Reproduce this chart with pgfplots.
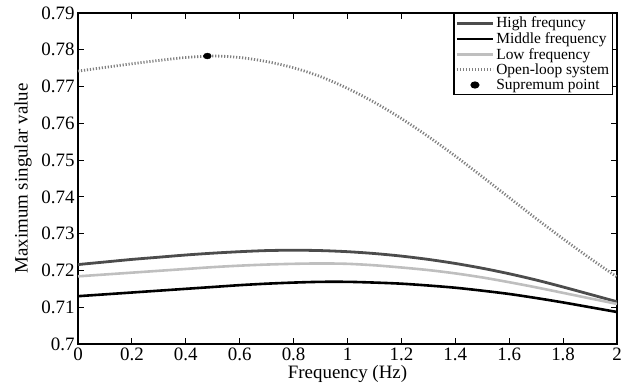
\documentclass[border=0pt]{standalone}
\usepackage{fontspec}
\setmainfont{Liberation Serif}
\usepackage{pgfplots}
\pgfplotsset{compat=1.18}
\pgfplotsset{
  lineleg/.style={legend image code/.code={\draw[##1] (0bp,0bp) -- (36bp,0bp);}},
  markleg/.style={legend image code/.code={\draw[##1] plot coordinates {(18bp,0bp)};}},
}
\begin{document}
\begin{tikzpicture}
\path[use as bounding box] (-78bp,-46bp) rectangle (546bp,344bp);
\begin{axis}[
  at={(0,0)}, anchor=south west,
  scale only axis, width=539bp, height=331bp,
  xmin=0, xmax=2, ymin=0.7, ymax=0.79,
  xtick={0,0.2,...,2.01}, ytick={0.7,0.71,...,0.791},
  /pgf/number format/assume math mode=true,
  /pgf/number format/fixed,
  tick label style={font=\fontsize{19}{22}\selectfont},
  label style={font=\fontsize{19}{22}\selectfont},
  xlabel={Frequency (Hz)}, ylabel={Maximum singular value},
  ylabel style={at={(axis description cs:-0.102,0.5)},anchor=center},
  xlabel style={at={(axis description cs:0.5,-0.0906)},anchor=center},
  axis line style={line width=1.4bp},
  major tick style={line width=1bp,black},
  major tick length=6bp,
  legend style={at={(rel axis cs:0.993,1)},anchor=north east, draw=black, line width=1.2bp,
    font=\fontsize{15.5}{15.5}\selectfont, inner sep=1.5bp, row sep=-0.8bp,
    cells={anchor=west}},
  lineleg,
]
\addplot[smooth, color=black!70, line width=2.8bp] coordinates {
(0,0.7216) (0.1,0.7223) (0.2,0.7230) (0.3,0.7236) (0.4,0.7242) (0.5,0.7247) (0.6,0.7251) (0.7,0.7254) (0.8,0.7255) (0.9,0.7254) (1.0,0.7251) (1.1,0.7246) (1.2,0.7239) (1.3,0.7230) (1.4,0.7219) (1.5,0.7206) (1.6,0.7191) (1.7,0.7174) (1.8,0.7155) (1.9,0.7135) (2.0,0.7115)};
\addlegendentry{High frequncy}
\addplot[smooth, color=black, line width=2.6bp] coordinates {
(0,0.7130) (0.1,0.7135) (0.2,0.7140) (0.3,0.7145) (0.4,0.7150) (0.5,0.7155) (0.6,0.7160) (0.7,0.7164) (0.8,0.7167) (0.9,0.7169) (1.0,0.7169) (1.1,0.7167) (1.2,0.7164) (1.3,0.7159) (1.4,0.7153) (1.5,0.7145) (1.6,0.7136) (1.7,0.7125) (1.8,0.7113) (1.9,0.7100) (2.0,0.7087)};
\addlegendentry{Middle frequency}
\addplot[smooth, color=black!25, line width=2.6bp] coordinates {
(0,0.7184) (0.1,0.7189) (0.2,0.7194) (0.3,0.7199) (0.4,0.7204) (0.5,0.7209) (0.6,0.7213) (0.7,0.7216) (0.8,0.7218) (0.9,0.7219) (1.0,0.7218) (1.1,0.7214) (1.2,0.7208) (1.3,0.7201) (1.4,0.7192) (1.5,0.7181) (1.6,0.7168) (1.7,0.7154) (1.8,0.7139) (1.9,0.7124) (2.0,0.7109)};
\addlegendentry{Low frequency}
\addplot[smooth, color=black!50, line width=2.8bp, dash pattern=on 1.2bp off 1.8bp] coordinates {
(0,0.7742) (0.1,0.7752) (0.2,0.7762) (0.3,0.7771) (0.4,0.7779) (0.5,0.7783) (0.6,0.7779) (0.7,0.7768) (0.8,0.7751) (0.9,0.7727) (1.0,0.7695) (1.1,0.7657) (1.2,0.7613) (1.3,0.7564) (1.4,0.7511) (1.5,0.7455) (1.6,0.7398) (1.7,0.7341) (1.8,0.7286) (1.9,0.7233) (2.0,0.7182)};
\addlegendentry{Open-loop system}
\addplot[only marks, mark=*, mark size=3bp, mark options={xscale=1.3}, color=black, markleg] coordinates {(0.48,0.7783)};
\addlegendentry{Supremum point}
\end{axis}
\end{tikzpicture}
\end{document}
